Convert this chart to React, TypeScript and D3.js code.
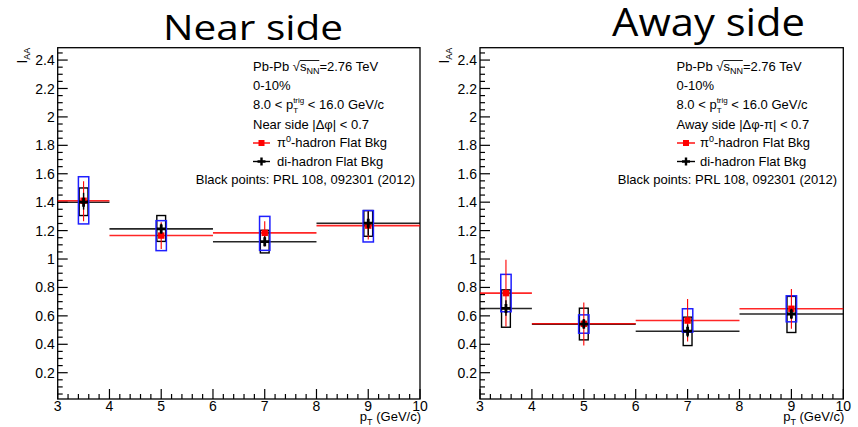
import React from "react";
import * as d3 from "d3";

const binEdges = [[3, 4], [4, 6], [6, 8], [8, 10]];
const binCenters = [3.5, 5, 7, 9];
const xTickValues = [3, 4, 5, 6, 7, 8, 9, 10];
const yTickValues = [0.2, 0.4, 0.6, 0.8, 1, 1.2, 1.4, 1.6, 1.8, 2, 2.2, 2.4];

// Near side
const nearPi0 = [1.41, 1.165, 1.184, 1.235];
const nearPi0Stat = [[1.266, 1.548], [1.071, 1.259], [1.089, 1.266], [1.137, 1.336]];
const nearPi0Sys = [[1.247, 1.579], [1.059, 1.27], [1.061, 1.3], [1.12, 1.341]];
const nearDi = [1.4, 1.212, 1.122, 1.252];
const nearDiStat = [[1.348, 1.466], [1.179, 1.249], [1.089, 1.16], [1.165, 1.336]];
const nearDiSys = [[1.306, 1.5], [1.124, 1.306], [1.043, 1.202], [1.16, 1.341]];

// Away side
const awayPi0 = [0.76, 0.544, 0.567, 0.65];
const awayPi0Stat = [[0.525, 0.995], [0.391, 0.694], [0.419, 0.718], [0.509, 0.789]];
const awayPi0Sys = [[0.629, 0.892], [0.478, 0.607], [0.485, 0.65], [0.558, 0.741]];
const awayDi = [0.652, 0.542, 0.492, 0.613];
const awayDiStat = [[0.6, 0.71], [0.51, 0.578], [0.45, 0.54], [0.58, 0.65]];
const awayDiSys = [[0.52, 0.783], [0.431, 0.654], [0.391, 0.591], [0.483, 0.737]];

const FONT = "'Liberation Sans', Arial, Helvetica, sans-serif";
const TOP = 47.7;
const BOTTOM = 399;
const Y_DOMAIN = [0.015, 2.487];

type PanelProps = {
  left: number;
  right: number;
  title: string;
  titleX: number;
  titleY: number;
  titleSize: number;
  titleLen: number;
  sideLabel: React.ReactNode;
  textX: number;
  legLineX0: number;
  legLineX1: number;
  legTextX: number;
  blackRight: number;
  pi0: number[];
  pi0Stat: number[][];
  pi0Sys: number[][];
  di: number[];
  diStat: number[][];
  diSys: number[][];
};

function Cross({ cx, cy, s = 4.5, t = 1.4 }: { cx: number; cy: number; s?: number; t?: number }) {
  const d = `M${cx - t},${cy - s}H${cx + t}V${cy - t}H${cx + s}V${cy + t}H${cx + t}V${cy + s}H${cx - t}V${cy + t}H${cx - s}V${cy - t}H${cx - t}Z`;
  return <path d={d} fill="#000" />;
}

function Panel(p: PanelProps) {
  const x = d3.scaleLinear().domain([3, 10]).range([p.left, p.right]);
  const y = d3.scaleLinear().domain(Y_DOMAIN).range([BOTTOM, TOP]);
  const xMinor = d3.range(3, 10.001, 0.2).filter((v) => Math.abs(v - Math.round(v)) > 1e-6);
  const yMinor = d3.range(1, 50).map((i) => i * 0.05).filter((v, i) => (i + 1) % 4 !== 0);
  const blueW = 0.1;
  const blackW = 0.085;
  const red = "#ff0000";
  const blue = "#1f1fff";
  const lines = [128.5, 147, 165.5];
  return (
    <g>
      <text x={p.titleX} y={p.titleY} fontFamily="'Open Sans', 'Noto Sans', sans-serif" fontSize={p.titleSize}
        textLength={p.titleLen} lengthAdjust="spacingAndGlyphs" fill="#000">{p.title}</text>
      {/* frame */}
      <rect x={p.left} y={TOP} width={p.right - p.left} height={BOTTOM - TOP} fill="none" stroke="#000" strokeWidth={1.3} />
      {/* x ticks */}
      {xTickValues.map((v) => (
        <g key={"xt" + v}>
          <line x1={x(v)} x2={x(v)} y1={BOTTOM} y2={BOTTOM - 10} stroke="#000" strokeWidth={1.2} />
          <text x={x(v)} y={411} textAnchor="middle" fontFamily={FONT} fontSize={14}>{v}</text>
        </g>
      ))}
      {xMinor.map((v, i) => (
        <line key={"xm" + i} x1={x(v)} x2={x(v)} y1={BOTTOM} y2={BOTTOM - 5} stroke="#000" strokeWidth={1.2} />
      ))}
      {yTickValues.map((v) => (
        <g key={"yt" + v}>
          <line x1={p.left} x2={p.left + 10} y1={y(v)} y2={y(v)} stroke="#000" strokeWidth={1.2} />
          <text x={p.left - 3} y={y(v)} dy="0.36em" textAnchor="end" fontFamily={FONT} fontSize={14}>{v}</text>
        </g>
      ))}
      {yMinor.map((v, i) => (
        <line key={"ym" + i} x1={p.left} x2={p.left + 5} y1={y(v)} y2={y(v)} stroke="#000" strokeWidth={1.2} />
      ))}
      {/* axis titles */}
      <text x={p.right + 1} y={421} textAnchor="end" fontFamily={FONT} fontSize={13}>
        p<tspan fontSize={9} dy={4}>T</tspan><tspan dy={-4}> (GeV/c)</tspan>
      </text>
      <text transform={`translate(${p.left - 31},${TOP}) rotate(-90)`} textAnchor="end" fontFamily={FONT} fontSize={14}>
        I<tspan fontSize={9} dy={3}>AA</tspan>
      </text>
      {/* bin lines */}
      {binEdges.map((b, i) => (
        <line key={"dl" + i} x1={x(b[0])} x2={x(b[1])} y1={y(p.di[i])} y2={y(p.di[i])} stroke="#000" strokeWidth={1.6} strokeOpacity={0.85} />
      ))}
      {binEdges.map((b, i) => (
        <line key={"rl" + i} x1={x(b[0])} x2={x(b[1])} y1={y(p.pi0[i])} y2={y(p.pi0[i])} stroke={red} strokeWidth={1.6} strokeOpacity={0.85} />
      ))}
      {/* sys boxes */}
      {binCenters.map((c, i) => (
        <rect key={"db" + i} x={x(c - blackW)} width={x(c + blackW) - x(c - blackW)} y={y(p.diSys[i][1])}
          height={y(p.diSys[i][0]) - y(p.diSys[i][1])} fill="none" stroke="#000" strokeWidth={1.4} />
      ))}
      {binCenters.map((c, i) => (
        <rect key={"bb" + i} x={x(c - blueW)} width={x(c + blueW) - x(c - blueW)} y={y(p.pi0Sys[i][1])}
          height={y(p.pi0Sys[i][0]) - y(p.pi0Sys[i][1])} fill="none" stroke={blue} strokeWidth={1.5} />
      ))}
      {/* stat errors and markers */}
      {binCenters.map((c, i) => (
        <line key={"rs" + i} x1={x(c)} x2={x(c)} y1={y(p.pi0Stat[i][0])} y2={y(p.pi0Stat[i][1])} stroke={red} strokeWidth={1.1} />
      ))}
      {binCenters.map((c, i) => (
        <rect key={"rm" + i} x={x(c) - 3.2} y={y(p.pi0[i]) - 3.2} width={6.4} height={6.4} fill={red} />
      ))}
      {binCenters.map((c, i) => (
        <line key={"ds" + i} x1={x(c)} x2={x(c)} y1={y(p.diStat[i][0])} y2={y(p.diStat[i][1])} stroke="#000" strokeWidth={1.4} />
      ))}
      {binCenters.map((c, i) => (
        <Cross key={"dm" + i} cx={x(c)} cy={y(p.di[i])} />
      ))}
      {/* legend text */}
      <g fontFamily={FONT} fontSize={13} fill="#000">
        <text x={p.textX} y={71}>
          Pb-Pb √<tspan>s</tspan><tspan fontSize={9} dy={3}>NN</tspan><tspan dy={-3}>=2.76 TeV</tspan>
        </text>
        <line x1={p.textX + 46.8} x2={p.textX + 66.3} y1={60.5} y2={60.5} stroke="#000" strokeWidth={0.9} />
        <text x={p.textX} y={90}>0-10%</text>
        <text x={p.textX} y={109}>
          8.0 &lt; p<tspan fontSize={8} dy={-6}>trig</tspan><tspan fontSize={8} dx={-11.1} dy={9.5}>T</tspan>
          <tspan dx={6.2} dy={-3.5}> &lt; 16.0 GeV/c</tspan>
        </text>
        <text x={p.textX} y={lines[0]}>{p.sideLabel}</text>
        <line x1={p.legLineX0} x2={p.legLineX1} y1={lines[1] - 4} y2={lines[1] - 4} stroke={red} strokeWidth={1.4} />
        <rect x={(p.legLineX0 + p.legLineX1) / 2 - 3} y={lines[1] - 7} width={6} height={6} fill={red} />
        <text x={p.legTextX} y={lines[1]}>
          π<tspan fontSize={9} dy={-5}>0</tspan><tspan dy={5}>-hadron Flat Bkg</tspan>
        </text>
        <line x1={p.legLineX0} x2={p.legLineX1} y1={lines[2] - 4} y2={lines[2] - 4} stroke="#000" strokeWidth={1.4} />
        <Cross cx={(p.legLineX0 + p.legLineX1) / 2} cy={lines[2] - 4} s={4} t={1.2} />
        <text x={p.legTextX} y={lines[2]}>di-hadron Flat Bkg</text>
        <text x={p.blackRight} y={184} textAnchor="end">Black points: PRL 108, 092301 (2012)</text>
      </g>
    </g>
  );
}

export default function App() {
  return (
    <svg width={858} height={427} style={{ position: "absolute", left: 0, top: 0, display: "block", background: "#fff" }}>
      <rect width={858} height={427} fill="#fff" />
      <Panel left={57.7} right={420} title="Near side" titleX={163} titleY={40} titleSize={35} titleLen={180}
        sideLabel={"Near side |Δφ| < 0.7"} textX={253} legLineX0={253} legLineX1={270} legTextX={277} blackRight={415}
        pi0={nearPi0} pi0Stat={nearPi0Stat} pi0Sys={nearPi0Sys} di={nearDi} diStat={nearDiStat} diSys={nearDiSys} />
      <Panel left={480} right={843.3} title="Away side" titleX={612} titleY={36} titleSize={38} titleLen={193}
        sideLabel={"Away side |Δφ-π| < 0.7"} textX={676.5} legLineX0={677} legLineX1={695} legTextX={700} blackRight={837}
        pi0={awayPi0} pi0Stat={awayPi0Stat} pi0Sys={awayPi0Sys} di={awayDi} diStat={awayDiStat} diSys={awayDiSys} />
    </svg>
  );
}
